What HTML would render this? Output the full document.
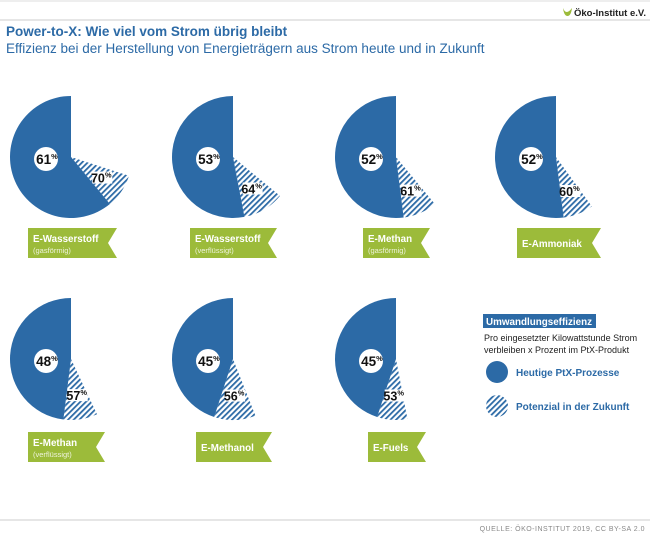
<!DOCTYPE html>
<html><head><meta charset="utf-8">
<style>
body{margin:0;background:#fff;}
svg{display:block;font-family:"Liberation Sans",Arial,sans-serif;}
</style></head>
<body>
<svg width="650" height="536" viewBox="0 0 650 536">
<defs>
<pattern id="hatch" patternUnits="userSpaceOnUse" width="4" height="4" patternTransform="rotate(45)">
<rect width="4" height="4" fill="#fff"/>
<rect width="1.8" height="4" fill="#2c6aa6"/>
</pattern>
</defs>
<line x1="0" y1="1" x2="650" y2="1" stroke="#ddd"/>
<line x1="0" y1="20" x2="650" y2="20" stroke="#ccc"/>
<g>
<path d="M563 8 q3 8 9 0 q-1 8 -4.5 8 q-3.5 0 -4.5 -8z" fill="#9cbb3a"/>
<text x="574" y="16" font-size="9.5" font-weight="bold" fill="#222" textLength="72" lengthAdjust="spacingAndGlyphs">Öko-Institut e.V.</text>
</g>
<text x="6" y="36" font-size="13.5" font-weight="bold" fill="#2c6aa6">Power-to-X: Wie viel vom Strom übrig bleibt</text>
<text x="6" y="53" font-size="13.5" fill="#2c6aa6">Effizienz bei der Herstellung von Energieträgern aus Strom heute und in Zukunft</text>
<g id="pies"></g>
<g>
<rect x="483" y="314" width="113" height="14" fill="#2c6aa6"/>
<text x="486" y="325" font-size="10" font-weight="bold" fill="#fff" textLength="106" lengthAdjust="spacingAndGlyphs">Umwandlungseffizienz</text>
<text x="484" y="341" font-size="9" fill="#222">Pro eingesetzter Kilowattstunde Strom</text>
<text x="484" y="353" font-size="9" fill="#222">verbleiben x Prozent im PtX-Produkt</text>
<circle cx="497" cy="372" r="11" fill="#2c6aa6"/>
<text x="516" y="376" font-size="10" font-weight="bold" fill="#2c6aa6">Heutige PtX-Prozesse</text>
<circle cx="497" cy="406" r="11" fill="url(#hatch)"/>
<text x="516" y="410" font-size="10" font-weight="bold" fill="#2c6aa6">Potenzial in der Zukunft</text>
</g>
<line x1="0" y1="520" x2="650" y2="520" stroke="#ccc"/>
<text x="645" y="531" font-size="7" fill="#888" text-anchor="end" letter-spacing="0.5">QUELLE: ÖKO-INSTITUT 2019, CC BY-SA 2.0</text>
</svg>
<script>
const names = ["E-Wasserstoff","E-Wasserstoff","E-Methan","E-Ammoniak","E-Methan","E-Methanol","E-Fuels"];
const subs = ["(gasförmig)","(verflüssigt)","(gasförmig)","","(verflüssigt)","",""];
const today = [61,53,52,52,48,45,45];
const future = [70,64,61,60,57,56,53];
const centers = [[71,157],[233,157],[396,157],[556,157],[71,359],[233,359],[396,359]];
const banners = [[28,228,89,30],[190,228,87,30],[363,228,67,30],[517,228,84,30],[28,432,77,30],[196,432,76,30],[368,432,58,30]];
const R = 61;
const NS = "http://www.w3.org/2000/svg";
const g = document.getElementById('pies');
function pt(cx,cy,pct,r){const a=-pct/100*2*Math.PI;return [cx+r*Math.sin(a),cy-r*Math.cos(a)];}
function sector(cx,cy,p0,p1,r){
  const a=pt(cx,cy,p0,r),b=pt(cx,cy,p1,r);const large=(p1-p0)>50?1:0;
  return `M${cx},${cy} L${a[0]},${a[1]} A${r},${r} 0 ${large} 0 ${b[0]},${b[1]} Z`;}
function mk(tag,attrs){const e=document.createElementNS(NS,tag);for(const k in attrs)e.setAttribute(k,attrs[k]);return e;}
today.forEach((v,i)=>{
  const [cx,cy]=centers[i];
  const grp=mk('g',{});
  
  
  const h=mk('path',{d:sector(cx,cy,v,future[i],R),fill:'url(#hatch)'});
  
  
  grp.appendChild(h);
  const s=mk('path',{d:sector(cx,cy,0,v,R),fill:'#2c6aa6'});
  
  
  grp.appendChild(s);
  const lx=cx-26, ly=cy+2;
  const c=mk('circle',{cx:lx+1,cy:ly,r:12,fill:'#fff'});
  
  
  grp.appendChild(c);
  const t=mk('text',{x:lx+2,y:ly+5,'font-size':13.5,'font-weight':'bold','text-anchor':'middle',fill:'#111'});
  t.innerHTML=v+'<tspan font-size="7.5" dy="-5">%</tspan>';
  
  
  grp.appendChild(t);
  const mid=(v+future[i])/2;const lp=pt(cx,cy,mid,R*0.6);
  const lb=mk('rect',{x:lp[0]-9,y:lp[1]-6,width:20,height:12,fill:'#fff'});
  
  
  grp.appendChild(lb);
  const ft=mk('text',{x:lp[0],y:lp[1]+5,'font-size':12.5,'font-weight':'bold','text-anchor':'middle',fill:'#111'});
  ft.innerHTML=future[i]+'<tspan font-size="7.5" dy="-5">%</tspan>';
  
  
  grp.appendChild(ft);
  const [bx,by,bw,bh]=banners[i];
  const bp=mk('path',{d:`M${bx},${by} H${bx+bw} L${bx+bw-9},${by+bh/2} L${bx+bw},${by+bh} H${bx} Z`,fill:'#9cbb3a'});
  
  
  grp.appendChild(bp);
  const nt=mk('text',{x:bx+5,y:subs[i]?by+14:by+19,'font-size':9.8,'font-weight':'bold',fill:'#fff'});
  nt.textContent=names[i];
  
  
  grp.appendChild(nt);
  if(subs[i]){const st=mk('text',{x:bx+5,y:by+25,'font-size':7.5,fill:'#eef3dc'});
    st.textContent=subs[i];
    
    
    grp.appendChild(st);}
  g.appendChild(grp);
});
</script>
</body></html>
